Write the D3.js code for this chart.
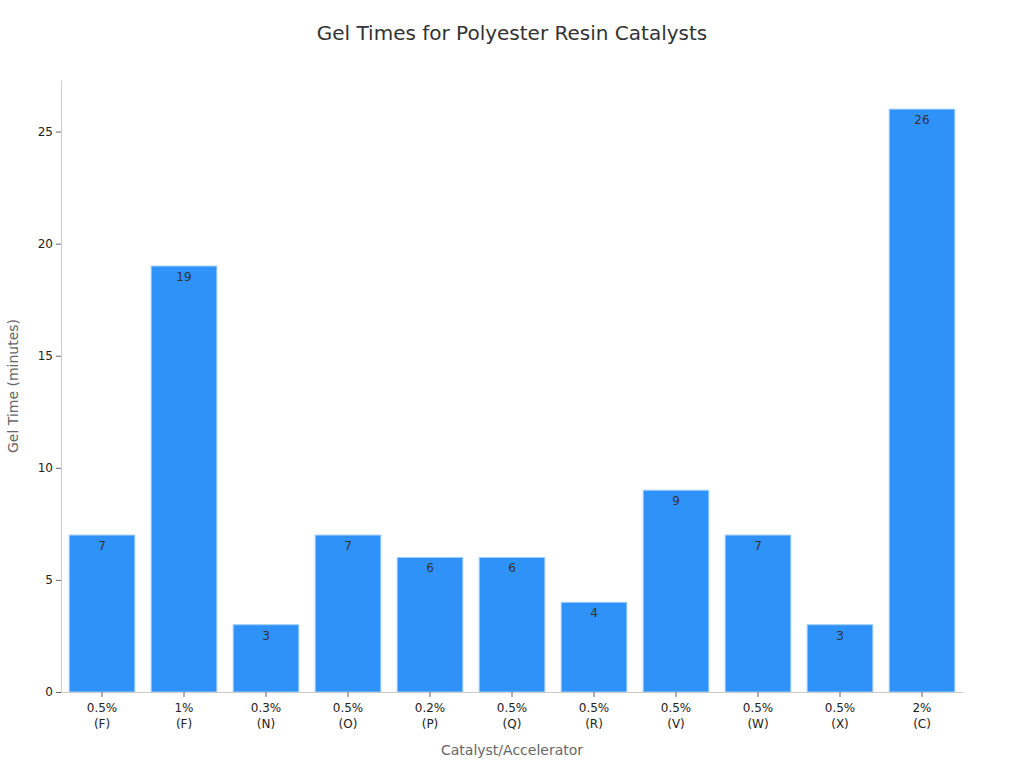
<!DOCTYPE html>
<html>
<head>
<meta charset="utf-8">
<script src="https://cdn.jsdelivr.net/npm/d3@7"></script>
<style>
  body { margin: 0; background: #fff; font-family: "DejaVu Sans", sans-serif; }
</style>
</head>
<body>
<div id="chart"></div>
<script>
const concentrations = ['0.5%', '1%', '0.3%', '0.5%', '0.2%', '0.5%', '0.5%', '0.5%', '0.5%', '0.5%', '2%'];
const catalysts = ['F', 'F', 'N', 'O', 'P', 'Q', 'R', 'V', 'W', 'X', 'C'];
const gelTimes = [7, 19, 3, 7, 6, 6, 4, 9, 7, 3, 26];
const yTicks = [0, 5, 10, 15, 20, 25];

const svgWidth = 1024, svgHeight = 768;
const margin = { top: 80, right: 61, bottom: 76, left: 61 };
const width = svgWidth - margin.left - margin.right;
const height = svgHeight - margin.top - margin.bottom;

const data = gelTimes.map((v, i) => ({ key: i, conc: concentrations[i], cat: catalysts[i], value: v }));

const svg = d3.select('#chart')
    .append('svg')
    .attr('width', svgWidth)
    .attr('height', svgHeight);

svg.append('text')
    .attr('x', svgWidth / 2)
    .attr('y', 40)
    .attr('text-anchor', 'middle')
    .style('font-size', '20px')
    .style('fill', '#333')
    .text('Gel Times for Polyester Resin Catalysts');

const bounds = svg.append('g')
    .attr('transform', `translate(${margin.left}, ${margin.top})`);

const xScale = d3.scaleBand()
    .domain(data.map(d => d.key))
    .range([0, width])
    .paddingInner(0.2)
    .paddingOuter(0.1);

const yScale = d3.scaleLinear()
    .domain([0, d3.max(gelTimes) * 1.05])
    .range([height, 0]);

bounds.selectAll('.bar')
    .data(data)
    .enter()
    .append('rect')
    .attr('class', 'bar')
    .attr('x', d => xScale(d.key))
    .attr('y', d => yScale(d.value))
    .attr('width', xScale.bandwidth())
    .attr('height', d => height - yScale(d.value))
    .style('fill', '#2e92f8')
    .style('stroke', '#9ccbfb')
    .style('stroke-width', 1);

bounds.selectAll('.bar-label')
    .data(data)
    .enter()
    .append('text')
    .attr('class', 'bar-label')
    .attr('x', d => xScale(d.key) + xScale.bandwidth() / 2)
    .attr('y', d => yScale(d.value) + 15)
    .attr('text-anchor', 'middle')
    .style('font-size', '12px')
    .style('fill', '#333')
    .text(d => d.value);

const xAxisGroup = bounds.append('g')
    .attr('class', 'x axis')
    .attr('transform', `translate(0, ${height})`)
    .call(d3.axisBottom(xScale).tickSize(5).tickSizeOuter(0).tickFormat(''));

xAxisGroup.select('.domain').style('stroke', '#ccc');
xAxisGroup.selectAll('.tick line').style('stroke', '#666');

xAxisGroup.selectAll('.tick').each(function (k) {
    const t = d3.select(this).append('text')
        .attr('text-anchor', 'middle')
        .style('font-size', '12px')
        .style('font-family', '"DejaVu Sans", sans-serif')
        .style('fill', '#222');
    t.append('tspan').attr('x', 0).attr('y', 20).text(data[k].conc);
    t.append('tspan').attr('x', 0).attr('y', 36).text(`(${data[k].cat})`);
});

const yAxisGroup = bounds.append('g')
    .attr('class', 'y axis')
    .call(d3.axisLeft(yScale).tickValues(yTicks).tickSize(5).tickSizeOuter(0).tickFormat(d => d));

yAxisGroup.select('.domain').style('stroke', '#ccc');
yAxisGroup.selectAll('.tick line').style('stroke', '#666');
yAxisGroup.selectAll('.tick text')
    .style('font-size', '12px')
    .style('font-family', '"DejaVu Sans", sans-serif')
    .style('fill', '#222');

svg.append('text')
    .attr('x', margin.left + width / 2)
    .attr('y', 755)
    .attr('text-anchor', 'middle')
    .style('font-size', '14px')
    .style('fill', '#666')
    .text('Catalyst/Accelerator');

svg.append('text')
    .attr('transform', `translate(18, ${margin.top + height / 2}) rotate(-90)`)
    .attr('text-anchor', 'middle')
    .style('font-size', '14px')
    .style('fill', '#666')
    .text('Gel Time (minutes)');
</script>
</body>
</html>
